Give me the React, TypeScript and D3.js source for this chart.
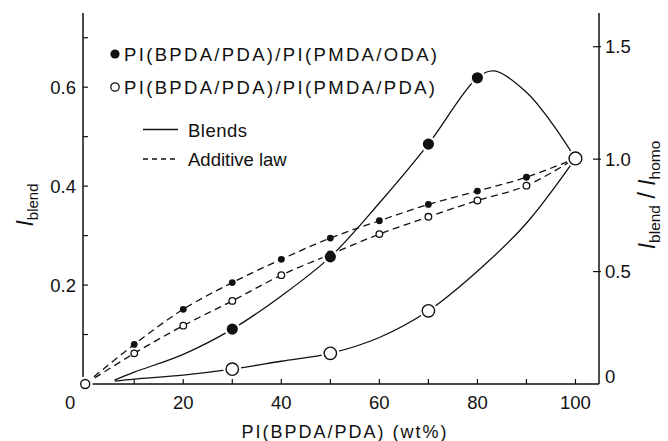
import React from "react";
import * as d3 from "d3";

const W = 668;
const H = 441;

// Axis ticks
const xTickValues = [0, 20, 40, 60, 80, 100];
const xTickMarks = [10, 20, 30, 40, 50, 60, 70, 80, 90, 100];
const yLeftLabels = [0.2, 0.4, 0.6];
const yLeftMarks = [0.1, 0.2, 0.3, 0.4, 0.5, 0.6, 0.7];
const yRightLabels = [0, 0.5, 1.0, 1.5];

// Blends: PI(BPDA/PDA)/PI(PMDA/ODA), measured points
const odaBlendX = [30, 50, 70, 80];
const odaBlendY = [0.111, 0.257, 0.485, 0.619];
// Blends: PI(BPDA/PDA)/PI(PMDA/PDA), measured points
const pdaBlendX = [30, 50, 70];
const pdaBlendY = [0.03, 0.062, 0.148];
// Homopolymer end points
const endX = [0, 100];
const endY = [0, 0.456];

// Additive law points
const odaAddX = [10, 20, 30, 40, 50, 60, 70, 80, 90];
const odaAddY = [0.08, 0.151, 0.205, 0.252, 0.295, 0.33, 0.363, 0.39, 0.418];
const pdaAddX = [10, 20, 30, 40, 50, 60, 70, 80, 90];
const pdaAddY = [0.062, 0.118, 0.168, 0.22, 0.262, 0.303, 0.338, 0.371, 0.401];

// Hand-fitted blend curves
const odaCurveX = [6, 10, 20, 30, 40, 50, 60, 70, 80, 83.5, 90, 95, 100];
const odaCurveY = [0.008, 0.024, 0.06, 0.111, 0.178, 0.257, 0.366, 0.485, 0.619, 0.633, 0.59, 0.53, 0.456];
const pdaCurveX = [6, 10, 20, 30, 40, 50, 60, 70, 80, 90, 100];
const pdaCurveY = [0.006, 0.01, 0.018, 0.03, 0.046, 0.062, 0.094, 0.148, 0.228, 0.325, 0.456];

const FONT = "'Liberation Sans', Arial, Helvetica, sans-serif";
const INK = "#111";

const x = d3.scaleLinear().domain([-0.45, 104.8]).range([83, 599]);
const yL = d3.scaleLinear().domain([0, 0.75]).range([384, 13]);
const yR = d3.scaleLinear().domain([0, 1.65]).range([384, 13]);

const zip = (xs: number[], ys: number[]) => xs.map((v, i) => [v, ys[i]] as [number, number]);

const smooth = d3
  .line<[number, number]>()
  .x((d) => x(d[0]))
  .y((d) => yL(d[1]))
  .curve(d3.curveCatmullRom.alpha(0.5));

export default function App() {
  const odaAddLine = zip([0, ...odaAddX, 100], [0, ...odaAddY, 0.456]);
  const pdaAddLine = zip([0, ...pdaAddX, 100], [0, ...pdaAddY, 0.456]);
  const bigFilled = zip(odaBlendX, odaBlendY);
  const bigOpen = zip(pdaBlendX, pdaBlendY);
  const ends = zip(endX, endY);

  return (
    <svg width={W} height={H} style={{ position: "absolute", left: 0, top: 0, background: "#fff" }} fontFamily={FONT}>
      <rect width={W} height={H} fill="#fff" />
      {/* axes frame */}
      <g stroke={INK} strokeWidth={1.5} fill="none">
        <line x1={83} x2={83} y1={yL(0.75)} y2={yL(0)} />
        <line x1={599} x2={599} y1={yR(1.65)} y2={yR(0)} />
        <line x1={83} x2={599} y1={yL(0)} y2={yL(0)} />
      </g>
      {/* tick marks */}
      <g stroke={INK} strokeWidth={1.2}>
        {xTickMarks.map((t) => (
          <line key={"xt" + t} x1={x(t)} x2={x(t)} y1={yL(0)} y2={yL(0) - 5} />
        ))}
        {yLeftMarks.map((t) => (
          <line key={"yl" + t} x1={83} x2={88} y1={yL(t)} y2={yL(t)} />
        ))}
        {yRightLabels.filter((t) => t > 0).map((t) => (
          <line key={"yr" + t} x1={593} x2={601} y1={yR(t)} y2={yR(t)} />
        ))}
      </g>
      {/* tick labels */}
      <g fill={INK} fontSize={18.5}>
        {xTickValues.map((t) => (
          <text key={"xl" + t} x={t === 0 ? x(t) - 15 : x(t)} y={409} textAnchor="middle">
            {t}
          </text>
        ))}
        {yLeftLabels.map((t) => (
          <text key={"yll" + t} x={76} y={yL(t) + 6.5} textAnchor="end">
            {t.toFixed(1)}
          </text>
        ))}
        {yRightLabels.map((t) => (
          <text key={"yrl" + t} x={605} y={t === 0 ? yR(t) - 1.5 : yR(t) + 6.5} textAnchor="start">
            {t === 0 ? "0" : t.toFixed(1)}
          </text>
        ))}
      </g>
      {/* axis titles */}
      <text x={344} y={438} fontSize={18} textAnchor="middle" fill={INK} textLength={205} lengthAdjust="spacing">
        PI(BPDA/PDA) (wt%)
      </text>
      <text transform="translate(33,205) rotate(-90)" textAnchor="middle" fill={INK} fontSize={23}>
        <tspan fontStyle="italic">I</tspan>
        <tspan fontSize={15} dy={5}>blend</tspan>
      </text>
      <text transform="translate(655,195) rotate(-90)" textAnchor="middle" fill={INK} fontSize={23}>
        <tspan fontStyle="italic">I</tspan>
        <tspan fontSize={15.5} dy={5}>blend</tspan>
        <tspan dy={-5}> / </tspan>
        <tspan fontStyle="italic">I</tspan>
        <tspan fontSize={15.5} dy={5}>homo</tspan>
      </text>

      {/* additive law (dashed) */}
      <g fill="none" stroke={INK} strokeWidth={1.3} strokeDasharray="7,4.5">
        <path d={smooth(odaAddLine) || ""} />
        <path d={smooth(pdaAddLine) || ""} />
      </g>
      {/* blends (solid) */}
      <g fill="none" stroke={INK} strokeWidth={1.3}>
        <path d={smooth(zip(odaCurveX, odaCurveY)) || ""} />
        <path d={smooth(zip(pdaCurveX, pdaCurveY)) || ""} />
      </g>

      {/* white halos so lines stop short of the markers */}
      <g fill="#fff">
        {bigFilled.map((d, i) => (
          <circle key={"hf" + i} cx={x(d[0])} cy={yL(d[1])} r={8} />
        ))}
        {bigOpen.map((d, i) => (
          <circle key={"ho" + i} cx={x(d[0])} cy={yL(d[1])} r={9} />
        ))}
        {ends.map((d, i) => (
          <circle key={"he" + i} cx={x(d[0])} cy={yL(d[1])} r={i === 0 ? 7.5 : 9} />
        ))}
      </g>

      {/* additive law markers */}
      {zip(odaAddX, odaAddY).map((d, i) => (
        <circle key={"oa" + i} cx={x(d[0])} cy={yL(d[1])} r={3.4} fill={INK} />
      ))}
      {zip(pdaAddX, pdaAddY).map((d, i) => (
        <circle key={"pa" + i} cx={x(d[0])} cy={yL(d[1])} r={3.3} fill="#fff" stroke={INK} strokeWidth={1.3} />
      ))}
      {/* blend markers */}
      {bigFilled.map((d, i) => (
        <circle key={"bf" + i} cx={x(d[0])} cy={yL(d[1])} r={5.6} fill={INK} />
      ))}
      {bigOpen.map((d, i) => (
        <circle key={"bo" + i} cx={x(d[0])} cy={yL(d[1])} r={6.2} fill="#fff" stroke={INK} strokeWidth={1.4} />
      ))}
      {ends.map((d, i) => (
        <circle key={"be" + i} cx={x(d[0])} cy={yL(d[1])} r={i === 0 ? 4.5 : 6.4} fill="#fff" stroke={INK} strokeWidth={1.4} />
      ))}

      {/* legend */}
      <circle cx={115} cy={54} r={4.6} fill={INK} />
      <text x={124} y={60.5} fontSize={18.5} fill={INK} textLength={313} lengthAdjust="spacing">
        PI(BPDA/PDA)/PI(PMDA/ODA)
      </text>
      <circle cx={115} cy={87} r={4.2} fill="#fff" stroke={INK} strokeWidth={1.3} />
      <text x={124} y={93.5} fontSize={18.5} fill={INK} textLength={311} lengthAdjust="spacing">
        PI(BPDA/PDA)/PI(PMDA/PDA)
      </text>
      <line x1={143} x2={178} y1={129.5} y2={129.5} stroke={INK} strokeWidth={1.3} />
      <text x={188} y={137} fontSize={18.5} fill={INK} textLength={59} lengthAdjust="spacing">
        Blends
      </text>
      <line x1={143} x2={178} y1={159} y2={159} stroke={INK} strokeWidth={1.3} strokeDasharray="5,4" />
      <text x={188} y={166} fontSize={18.5} fill={INK}>
        Additive law
      </text>
    </svg>
  );
}
